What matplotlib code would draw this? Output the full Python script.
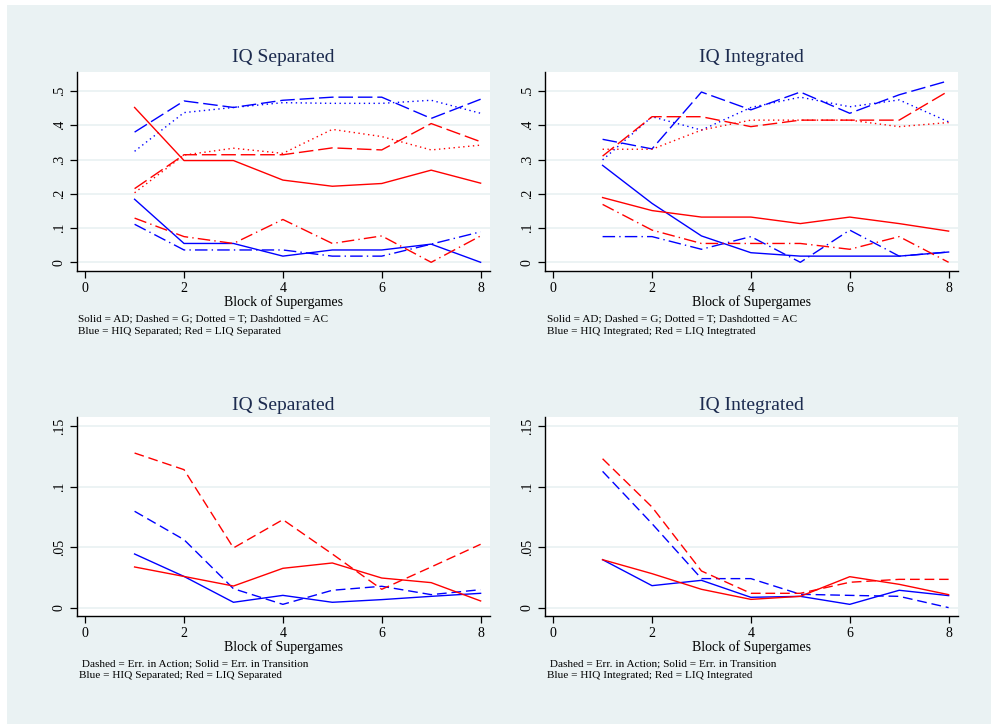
import matplotlib
matplotlib.use("Agg")
import matplotlib.pyplot as plt
from matplotlib.patches import Rectangle

plt.rcParams['font.family'] = ['Liberation Serif', 'DejaVu Serif']
plt.rcParams['lines.scale_dashes'] = False

blocks = [1, 2, 3, 4, 5, 6, 7, 8]

# Strategy shares, IQ separated sessions
sep_hiq_ad = [0.184, 0.055, 0.055, 0.018, 0.036, 0.036, 0.053, 0.0]
sep_hiq_g = [0.380, 0.471, 0.452, 0.473, 0.482, 0.482, 0.420, 0.476]
sep_hiq_t = [0.324, 0.437, 0.452, 0.466, 0.464, 0.464, 0.473, 0.435]
sep_hiq_ac = [0.111, 0.036, 0.036, 0.036, 0.018, 0.018, 0.053, 0.089]
sep_liq_ad = [0.452, 0.297, 0.297, 0.240, 0.222, 0.230, 0.269, 0.231]
sep_liq_g = [0.215, 0.314, 0.314, 0.314, 0.334, 0.328, 0.405, 0.352]
sep_liq_t = [0.203, 0.313, 0.333, 0.318, 0.388, 0.367, 0.328, 0.342]
sep_liq_ac = [0.129, 0.075, 0.055, 0.125, 0.055, 0.077, 0.0, 0.077]

# Strategy shares, IQ integrated sessions
int_hiq_ad = [0.283, 0.172, 0.077, 0.028, 0.018, 0.018, 0.018, 0.030]
int_hiq_g = [0.359, 0.331, 0.497, 0.445, 0.497, 0.435, 0.489, 0.530]
int_hiq_t = [0.299, 0.425, 0.386, 0.452, 0.482, 0.454, 0.474, 0.410]
int_hiq_ac = [0.075, 0.075, 0.038, 0.075, 0.0, 0.094, 0.018, 0.030]
int_liq_ad = [0.189, 0.151, 0.132, 0.132, 0.113, 0.132, 0.113, 0.091]
int_liq_g = [0.310, 0.425, 0.425, 0.396, 0.415, 0.415, 0.415, 0.500]
int_liq_t = [0.330, 0.330, 0.386, 0.415, 0.415, 0.415, 0.396, 0.408]
int_liq_ac = [0.169, 0.094, 0.055, 0.055, 0.055, 0.038, 0.075, 0.0]

# Error rates, IQ separated sessions
sep_hiq_err_action = [0.0797, 0.0563, 0.0159, 0.0030, 0.0146, 0.0179, 0.0110, 0.0151]
sep_hiq_err_trans = [0.0445, 0.0260, 0.0047, 0.0104, 0.0047, 0.0069, 0.0096, 0.0121]
sep_liq_err_action = [0.1277, 0.1140, 0.0495, 0.0728, 0.0445, 0.0154, 0.0338, 0.0525]
sep_liq_err_trans = [0.0338, 0.0260, 0.0181, 0.0327, 0.0371, 0.0247, 0.0209, 0.0058]

# Error rates, IQ integrated sessions
int_hiq_err_action = [0.1126, 0.0695, 0.0242, 0.0242, 0.0113, 0.0104, 0.0096, 0.0003]
int_hiq_err_trans = [0.0398, 0.0184, 0.0228, 0.0088, 0.0096, 0.0030, 0.0146, 0.0102]
int_liq_err_action = [0.1230, 0.0832, 0.0305, 0.0121, 0.0121, 0.0212, 0.0236, 0.0236]
int_liq_err_trans = [0.0398, 0.0283, 0.0154, 0.0071, 0.0096, 0.0258, 0.0195, 0.0110]

strategy_yticks = [0, 0.1, 0.2, 0.3, 0.4, 0.5]
strategy_ylabels = ['0', '.1', '.2', '.3', '.4', '.5']
error_yticks = [0, 0.05, 0.1, 0.15]
error_ylabels = ['0', '.05', '.1', '.15']
xticks = [0, 2, 4, 6, 8]

BLUE = '#0000FF'
RED = '#FF0000'
BG = '#EAF2F3'
TITLE_C = '#1C2B4F'

SOLID = '-'
DASH = (0, (10.5, 3.5))
DOT = (0, (1, 2.5))
DASHDOT = (0, (9, 3, 1, 3))
SHORTDASH = (0, (7, 3.5))

W, H = 991, 724
fig = plt.figure(figsize=(W / 100, H / 100), dpi=100, facecolor='white')
fig.patches.append(Rectangle((7 / W, 0), 1 - 7 / W, 1 - 5 / H,
                             transform=fig.transFigure, facecolor=BG,
                             edgecolor='none', zorder=-5))


def make_axes(left, top, right, bottom, yticks, ylabels, ylim):
    ax = fig.add_axes([left / W, 1 - bottom / H, (right - left) / W, (bottom - top) / H])
    ax.set_zorder(1)
    ax.set_facecolor('white')
    for s in ('top', 'right'):
        ax.spines[s].set_visible(False)
    for s in ('left', 'bottom'):
        ax.spines[s].set_linewidth(1.0)
        ax.spines[s].set_color('black')
    ax.set_xlim(-0.165, 8.19)
    ax.set_ylim(*ylim)
    ax.set_xticks(xticks)
    ax.set_xticklabels([str(t) for t in xticks])
    ax.set_yticks(yticks)
    ax.set_yticklabels(ylabels, rotation=90, va='center')
    ax.tick_params(axis='both', direction='out', length=5, width=0.9,
                   labelsize=10, colors='black', pad=3)
    for y in yticks:
        ax.axhline(y, color=BG, lw=1.3, zorder=0.5)
    return ax


def draw(ax, series):
    for vals, color, ls in series:
        ax.plot(blocks, vals, color=color, linestyle=ls, lw=1.0, zorder=2)


def annotate(ax_cx, title_y, tick_y, note_x, lines):
    fig.text(ax_cx / W, 1 - title_y / H, lines[0], ha='center', va='center',
             fontsize=14, color=TITLE_C)
    fig.text(ax_cx / W, 1 - (tick_y + 16) / H, 'Block of Supergames', ha='center',
             va='center', fontsize=10, color='black')
    fig.text(note_x / W, 1 - (tick_y + 33) / H, lines[1], ha='left', va='center',
             fontsize=8.1, color='black')
    fig.text(note_x / W, 1 - (tick_y + 45) / H, lines[2], ha='left', va='center',
             fontsize=8.1, color='black')


ylim_s = (-0.0254, 0.5555)
ylim_e = (-0.0066, 0.1574)

ax1 = make_axes(77, 72, 490, 271, strategy_yticks, strategy_ylabels, ylim_s)
draw(ax1, [
    (sep_hiq_ad, BLUE, SOLID), (sep_hiq_g, BLUE, DASH), (sep_hiq_t, BLUE, DOT),
    (sep_hiq_ac, BLUE, DASHDOT), (sep_liq_ad, RED, SOLID), (sep_liq_g, RED, DASH),
    (sep_liq_t, RED, DOT), (sep_liq_ac, RED, DASHDOT)])

ax2 = make_axes(545, 72, 958, 271, strategy_yticks, strategy_ylabels, ylim_s)
draw(ax2, [
    (int_hiq_ad, BLUE, SOLID), (int_hiq_g, BLUE, DASH), (int_hiq_t, BLUE, DOT),
    (int_hiq_ac, BLUE, DASHDOT), (int_liq_ad, RED, SOLID), (int_liq_g, RED, DASH),
    (int_liq_t, RED, DOT), (int_liq_ac, RED, DASHDOT)])

ax3 = make_axes(77, 417, 490, 616, error_yticks, error_ylabels, ylim_e)
draw(ax3, [
    (sep_hiq_err_action, BLUE, SHORTDASH), (sep_hiq_err_trans, BLUE, SOLID),
    (sep_liq_err_action, RED, SHORTDASH), (sep_liq_err_trans, RED, SOLID)])

ax4 = make_axes(545, 417, 958, 616, error_yticks, error_ylabels, ylim_e)
draw(ax4, [
    (int_hiq_err_action, BLUE, SHORTDASH), (int_hiq_err_trans, BLUE, SOLID),
    (int_liq_err_action, RED, SHORTDASH), (int_liq_err_trans, RED, SOLID)])

annotate(283.5, 58, 286, 78, [
    'IQ Separated',
    'Solid = AD; Dashed = G; Dotted = T; Dashdotted = AC',
    'Blue = HIQ Separated; Red = LIQ Separated'])
annotate(751.5, 58, 286, 547, [
    'IQ Integrated',
    'Solid = AD; Dashed = G; Dotted = T; Dashdotted = AC',
    'Blue = HIQ Integrated; Red = LIQ Integtrated'])
annotate(283.5, 405, 631, 79, [
    'IQ Separated',
    ' Dashed = Err. in Action; Solid = Err. in Transition',
    'Blue = HIQ Separated; Red = LIQ Separated'])
annotate(751.5, 405, 631, 547, [
    'IQ Integrated',
    ' Dashed = Err. in Action; Solid = Err. in Transition',
    'Blue = HIQ Integrated; Red = LIQ Integrated'])

fig.savefig('out.png', dpi=100, facecolor='white')
